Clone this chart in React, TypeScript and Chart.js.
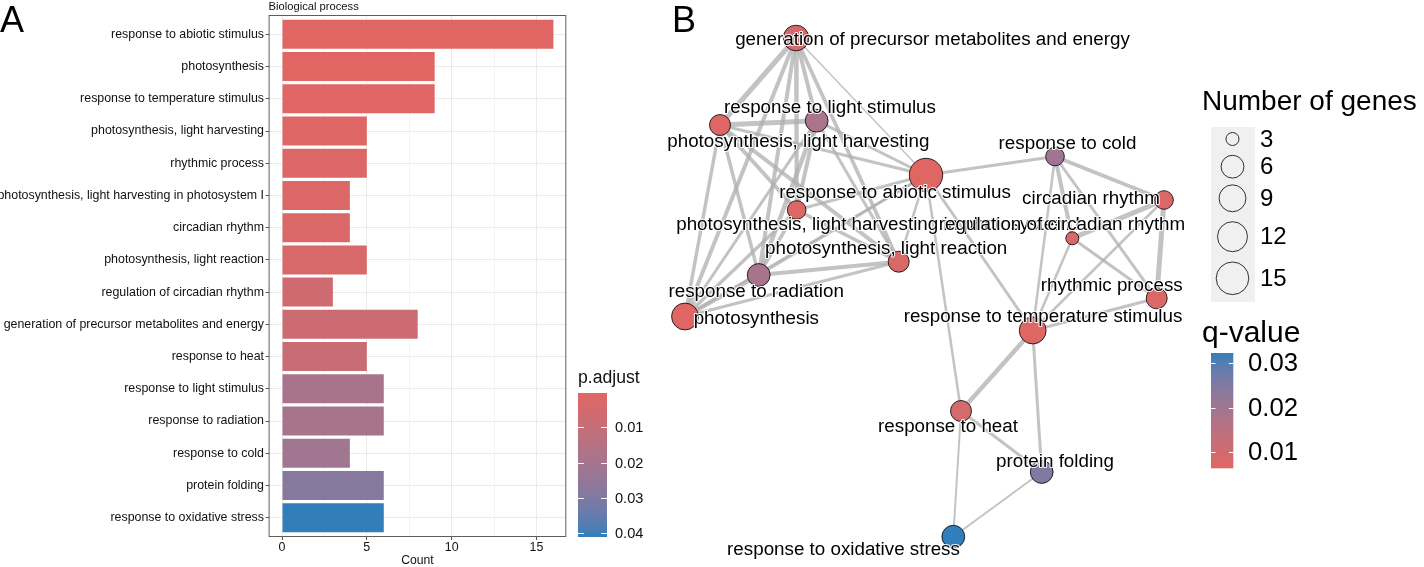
import { useEffect, useRef } from 'react';
import { Chart, registerables } from 'chart.js';

Chart.register(...registerables);

const FONT = "'Liberation Sans', Arial, Helvetica, sans-serif";
Chart.defaults.font.family = FONT;

// ---------------- DATA ----------------
const categories = [
  'response to abiotic stimulus',
  'photosynthesis',
  'response to temperature stimulus',
  'photosynthesis, light harvesting',
  'rhythmic process',
  'photosynthesis, light harvesting in photosystem I',
  'circadian rhythm',
  'photosynthesis, light reaction',
  'regulation of circadian rhythm',
  'generation of precursor metabolites and energy',
  'response to heat',
  'response to light stimulus',
  'response to radiation',
  'response to cold',
  'protein folding',
  'response to oxidative stress',
];
const counts = [16, 9, 9, 5, 5, 4, 4, 5, 3, 8, 5, 6, 6, 4, 6, 6];
const pAdjust = [0.0003, 0.0005, 0.0007, 0.0012, 0.0016, 0.002, 0.0025, 0.0035, 0.0065, 0.0075, 0.0085, 0.019, 0.0195, 0.0215, 0.028, 0.0411];
const qValue = [0.0064, 0.0066, 0.0068, 0.0072, 0.0075, 0.0075, 0.0078, 0.008, 0.0085, 0.0088, 0.009, 0.018, 0.0185, 0.02, 0.025, 0.0322];
const countTicks = [0, 5, 10, 15];
const countMinorTicks = [2.5, 7.5, 12.5];
const pAdjustTicks = [0.01, 0.02, 0.03, 0.04];
const qValueTicks = [0.01, 0.02, 0.03];
const geneLegendCounts = [3, 6, 9, 12, 15];

// network layout (layout units) per category
const layoutX = [2.66, 0.25, 3.727, 0.6, 4.967, 1.367, 5.04, 2.387, 4.123, 1.36, 3.01, 1.567, 0.987, 3.95, 3.817, 2.933];
const layoutY = [3.92, 2.505, 2.365, 4.42, 2.687, 3.57, 3.67, 3.053, 3.287, 5.29, 1.56, 4.463, 2.92, 4.105, 0.95, 0.303];

// edges: [from, to, similarity]
const edgeFrom = [9, 9, 9, 9, 9, 9, 9, 3, 3, 3, 3, 3, 3, 11, 11, 11, 11, 11, 1, 1, 1, 1, 12, 12, 12, 5, 5, 7, 0, 0, 0, 13, 13, 13, 13, 6, 6, 6, 8, 8, 4, 2, 2, 10, 10, 14];
const edgeTo = [3, 1, 12, 5, 11, 7, 0, 11, 1, 12, 5, 7, 0, 12, 1, 5, 7, 0, 12, 5, 7, 0, 5, 7, 0, 7, 0, 0, 13, 2, 10, 6, 8, 4, 2, 8, 4, 2, 4, 2, 2, 10, 14, 14, 15, 15];
const edgeSim = [1.0, 0.8, 0.8, 0.8, 0.8, 0.75, 0.3, 1.0, 0.7, 0.7, 0.8, 0.8, 0.6, 0.9, 0.6, 0.8, 0.6, 0.6, 0.9, 0.7, 0.6, 0.5, 0.7, 0.8, 0.6, 0.7, 0.6, 0.5, 0.6, 0.6, 0.5, 0.8, 0.8, 0.6, 0.5, 1.0, 1.0, 0.5, 0.6, 0.5, 0.6, 0.9, 0.6, 0.6, 0.4, 0.4];

// label offsets (px) from node centre
const labelDX = [-31, 71.3, 10.3, 78.3, -45, 81.5, -73, -12.5, -10.3, 136.5, -13, 13.3, -2.5, 12.5, 13.3, -109.8];
const labelDY = [18, 2.8, -13.8, 16.7, -12.6, 15, -0.7, -12.4, -13.3, 1.5, 16.3, -12.4, 16.7, -12.5, -10.3, 13.3];

// ---------------- COLOUR (Lab gradient like ggplot) ----------------
const LOW = '#e06663';
const HIGH = '#327eba';
function hexToRgb(h: string) {
  const n = parseInt(h.slice(1), 16);
  return [(n >> 16) & 255, (n >> 8) & 255, n & 255];
}
function toLin(c: number) { c /= 255; return c <= 0.04045 ? c / 12.92 : Math.pow((c + 0.055) / 1.055, 2.4); }
function fromLin(c: number) { const v = c <= 0.0031308 ? 12.92 * c : 1.055 * Math.pow(c, 1 / 2.4) - 0.055; return Math.max(0, Math.min(255, Math.round(v * 255))); }
function rgbToLab(rgb: number[]) {
  const [r, g, b] = rgb.map(toLin);
  const X = (0.4124564 * r + 0.3575761 * g + 0.1804375 * b) / 0.95047;
  const Y = 0.2126729 * r + 0.7151522 * g + 0.072175 * b;
  const Z = (0.0193339 * r + 0.119192 * g + 0.9503041 * b) / 1.08883;
  const f = (t: number) => (t > 0.008856 ? Math.cbrt(t) : 7.787 * t + 16 / 116);
  const fx = f(X), fy = f(Y), fz = f(Z);
  return [116 * fy - 16, 500 * (fx - fy), 200 * (fy - fz)];
}
function labToRgb(lab: number[]) {
  const [L, a, b] = lab;
  const fy = (L + 16) / 116, fx = fy + a / 500, fz = fy - b / 200;
  const finv = (t: number) => (t * t * t > 0.008856 ? t * t * t : (t - 16 / 116) / 7.787);
  const X = finv(fx) * 0.95047, Y = finv(fy), Z = finv(fz) * 1.08883;
  const r = 3.2404542 * X - 1.5371385 * Y - 0.4985314 * Z;
  const g = -0.969266 * X + 1.8760108 * Y + 0.041556 * Z;
  const bb = 0.0556434 * X - 0.2040259 * Y + 1.0572252 * Z;
  return `rgb(${fromLin(r)},${fromLin(g)},${fromLin(bb)})`;
}
const labLow = rgbToLab(hexToRgb(LOW));
const labHigh = rgbToLab(hexToRgb(HIGH));
function grad(t: number) {
  t = Math.max(0, Math.min(1, t));
  return labToRgb(labLow.map((v, i) => v + (labHigh[i] - v) * t));
}

const pMin = Math.min(...pAdjust), pMax = Math.max(...pAdjust);
const qMin = Math.min(...qValue), qMax = Math.max(...qValue);
const barColors = pAdjust.map((p) => grad((p - pMin) / (pMax - pMin)));
const nodeColors = qValue.map((q) => grad((q - qMin) / (qMax - qMin)));

const cMin = Math.min(...counts), cMax = Math.max(...counts);
function nodeRadius(n: number) {
  return 6.5 + 10.2 * Math.sqrt(Math.max(0, (n - cMin) / (cMax - cMin)));
}

// ---------------- PLUGINS ----------------
const panelAExtras = {
  id: 'panelAExtras',
  afterDraw(chart: any) {
    const { ctx, chartArea: a } = chart;
    ctx.save();
    ctx.strokeStyle = '#5e5e5e';
    ctx.lineWidth = 1;
    ctx.strokeRect(a.left + 0.5, a.top + 0.5, a.right - a.left - 1, a.bottom - a.top - 1);
    ctx.fillStyle = '#111';
    ctx.textAlign = 'left';
    ctx.textBaseline = 'alphabetic';
    ctx.font = `11.2px ${FONT}`;
    ctx.fillText('Biological process', a.left, 10);
    ctx.fillStyle = '#000';
    ctx.font = `36px ${FONT}`;
    ctx.fillText('A', 0, 32);

    // p.adjust colourbar
    const x0 = 578, w = 29, y0 = 393, h = 144;
    ctx.font = `17.6px ${FONT}`;
    ctx.fillStyle = '#111';
    ctx.fillText('p.adjust', x0, 383);
    const g = ctx.createLinearGradient(0, y0, 0, y0 + h);
    for (let i = 0; i <= 20; i++) g.addColorStop(i / 20, grad(i / 20));
    ctx.fillStyle = g;
    ctx.fillRect(x0, y0, w, h);
    ctx.strokeStyle = '#fff';
    ctx.lineWidth = 1;
    ctx.font = `14.6px ${FONT}`;
    ctx.textBaseline = 'middle';
    pAdjustTicks.forEach((v) => {
      const y = Math.round(y0 + ((v - pMin) / (pMax - pMin)) * h) + 0.5;
      ctx.beginPath();
      ctx.moveTo(x0, y); ctx.lineTo(x0 + 5.8, y);
      ctx.moveTo(x0 + w - 5.8, y); ctx.lineTo(x0 + w, y);
      ctx.stroke();
      ctx.fillStyle = '#111';
      ctx.fillText(v.toFixed(2), x0 + w + 8, y);
    });
    ctx.restore();
  },
};

const OFFX = 660;
const panelBExtras = {
  id: 'panelBExtras',
  afterDatasetsDraw(chart: any) {
    const { ctx, scales } = chart;
    ctx.save();
    ctx.font = `18.8px ${FONT}`;
    ctx.textAlign = 'center';
    ctx.textBaseline = 'middle';
    ctx.lineJoin = 'round';
    ctx.strokeStyle = 'rgba(255,255,255,0.9)';
    ctx.lineWidth = 2.2;
    ctx.fillStyle = '#000';
    categories.forEach((c, i) => {
      const px = scales.x.getPixelForValue(layoutX[i]) + labelDX[i];
      const py = scales.y.getPixelForValue(layoutY[i]) + labelDY[i];
      ctx.strokeText(c, px, py);
      ctx.fillText(c, px, py);
    });
    ctx.restore();
  },
  afterDraw(chart: any) {
    const { ctx } = chart;
    ctx.save();
    ctx.fillStyle = '#000';
    ctx.textAlign = 'left';
    ctx.textBaseline = 'alphabetic';
    ctx.font = `36px ${FONT}`;
    ctx.fillText('B', 672 - OFFX, 32);

    // Number of genes
    ctx.font = `28px ${FONT}`;
    ctx.fillText('Number of genes', 1202 - OFFX, 110);
    ctx.fillStyle = '#F0F0F0';
    ctx.fillRect(1211 - OFFX, 127, 44, 175);
    const cy = [139, 166.7, 198.3, 236.7, 278.3];
    ctx.font = `24px ${FONT}`;
    ctx.textBaseline = 'middle';
    geneLegendCounts.forEach((n, i) => {
      ctx.beginPath();
      ctx.arc(1232.5 - OFFX, cy[i], nodeRadius(n), 0, Math.PI * 2);
      ctx.strokeStyle = '#000';
      ctx.lineWidth = 0.8;
      ctx.stroke();
      ctx.fillStyle = '#000';
      ctx.fillText(String(n), 1260 - OFFX, cy[i] + 1);
    });

    // q-value
    ctx.textBaseline = 'alphabetic';
    ctx.font = `30px ${FONT}`;
    ctx.fillText('q-value', 1202 - OFFX, 342);
    const x0 = 1211 - OFFX, w = 22.3, y0 = 353, h = 115.3;
    const g = ctx.createLinearGradient(0, y0 + h, 0, y0);
    for (let i = 0; i <= 20; i++) g.addColorStop(i / 20, grad(i / 20));
    ctx.fillStyle = g;
    ctx.fillRect(x0, y0, w, h);
    ctx.strokeStyle = '#fff';
    ctx.lineWidth = 1;
    ctx.font = `25.7px ${FONT}`;
    ctx.textBaseline = 'middle';
    qValueTicks.forEach((v) => {
      const y = Math.round(y0 + h - ((v - qMin) / (qMax - qMin)) * h) + 0.5;
      ctx.beginPath();
      ctx.moveTo(x0, y); ctx.lineTo(x0 + 4.5, y);
      ctx.moveTo(x0 + w - 4.5, y); ctx.lineTo(x0 + w, y);
      ctx.stroke();
      ctx.fillStyle = '#000';
      ctx.fillText(v.toFixed(2), 1248 - OFFX, y);
    });
    ctx.restore();
  },
};

export default function App() {
  const refA = useRef<HTMLCanvasElement>(null);
  const refB = useRef<HTMLCanvasElement>(null);

  useEffect(() => {
    const chartA = new Chart(refA.current!, {
      type: 'bar',
      data: {
        datasets: [
          {
            data: counts.map((c, i) => ({ x: c, y: i })) as any,
            backgroundColor: barColors,
            borderWidth: 0,
            barPercentage: 0.9,
            categoryPercentage: 1,
          },
        ],
      },
      options: {
        indexAxis: 'y',
        responsive: false,
        animation: false,
        events: [],
        layout: { autoPadding: false, padding: { top: 15, right: 660 - 566.3, left: 0, bottom: 0 } },
        plugins: { legend: { display: false }, tooltip: { enabled: false } },
        scales: {
          x: {
            type: 'linear',
            position: 'bottom',
            min: -0.79,
            max: 16.76,
            offset: false,
            afterBuildTicks: (s: any) => {
              s.ticks = [...countTicks, ...countMinorTicks].sort((a, b) => a - b).map((v) => ({ value: v }));
            },
            afterFit: (s: any) => { s.height = 30; },
            ticks: {
              autoSkip: false,
              maxRotation: 0,
              padding: 0,
              color: '#111',
              font: { size: 12.4, family: FONT },
              callback: (v: any) => (countTicks.includes(v) ? String(v) : ''),
            },
            grid: {
              offset: false,
              color: (c: any) => (countTicks.includes(c.tick?.value) ? '#EBEBEB' : '#F4F4F4'),
              tickColor: (c: any) => (countTicks.includes(c.tick?.value) ? '#555' : 'rgba(0,0,0,0)'),
              tickLength: 3,
              lineWidth: 1,
            },
            border: { display: false },
            title: {
              display: true,
              text: 'Count',
              color: '#111',
              font: { size: 12.2, family: FONT, lineHeight: 1 },
              padding: { top: 0, bottom: 0 },
            },
          } as any,
          y: {
            type: 'linear',
            min: -0.6,
            max: categories.length - 0.4,
            reverse: true,
            offset: false,
            afterBuildTicks: (s: any) => {
              s.ticks = categories.map((_, i) => ({ value: i }));
            },
            afterFit: (s: any) => { s.width = 268.6; },
            ticks: {
              autoSkip: false,
              padding: 1.6,
              color: '#111',
              font: { size: 12.4, family: FONT },
              callback: (v: any) => categories[v as number] ?? '',
            },
            grid: { offset: false, color: '#EBEBEB', tickColor: '#555', tickLength: 3, lineWidth: 1 },
            border: { display: false },
          } as any,
        },
      },
      plugins: [panelAExtras],
    });

    const edgeDatasets = edgeFrom.map((f, k) => ({
      type: 'line' as const,
      data: [
        { x: layoutX[f], y: layoutY[f] },
        { x: layoutX[edgeTo[k]], y: layoutY[edgeTo[k]] },
      ],
      borderColor: 'rgba(175,175,175,0.75)',
      borderWidth: edgeSim[k] * 5,
      pointRadius: 0,
      showLine: true,
      fill: false,
      order: 2,
    }));

    const chartB = new Chart(refB.current!, {
      type: 'bubble',
      data: {
        datasets: [
          ...edgeDatasets,
          {
            type: 'bubble' as const,
            data: categories.map((_, i) => ({ x: layoutX[i], y: layoutY[i], r: nodeRadius(counts[i]) })),
            backgroundColor: nodeColors,
            borderColor: '#000',
            borderWidth: 0.8,
            order: 1,
          },
        ] as any,
      },
      options: {
        responsive: false,
        animation: false,
        events: [],
        layout: { autoPadding: false, padding: 0 },
        plugins: { legend: { display: false }, tooltip: { enabled: false } },
        scales: {
          x: { type: 'linear', min: 0, max: 7.64, display: false },
          y: { type: 'linear', min: 0, max: 5.67, display: false },
        },
      },
      plugins: [panelBExtras],
    });

    return () => {
      chartA.destroy();
      chartB.destroy();
    };
  }, []);

  return (
    <div style={{ position: 'fixed', left: 0, top: 0, width: 1424, height: 567, background: '#fff' }}>
      <canvas ref={refA} width={660} height={567} style={{ position: 'absolute', left: 0, top: 0, width: 660, height: 567 }} />
      <canvas ref={refB} width={764} height={567} style={{ position: 'absolute', left: 660, top: 0, width: 764, height: 567 }} />
    </div>
  );
}
